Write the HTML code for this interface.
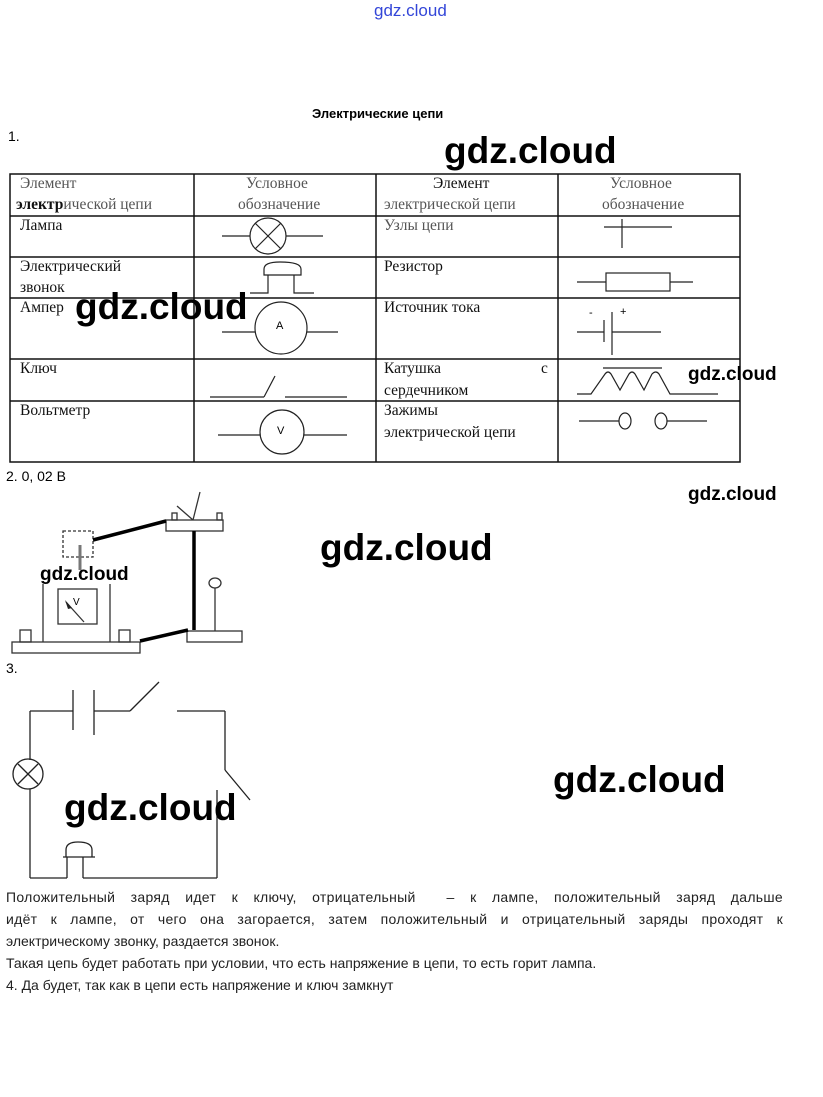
<!DOCTYPE html>
<html><head><meta charset="utf-8"><style>
body{margin:0;width:823px;height:1097px;background:#fff;position:relative;overflow:hidden;font-family:"Liberation Sans","Noto Sans CJK SC",sans-serif;color:#000}
.a{position:absolute;white-space:nowrap}
.wm{position:absolute;white-space:nowrap;font-family:"Liberation Sans",sans-serif;font-weight:bold;color:#000;line-height:1}
.s{font-family:"Liberation Serif",serif;font-size:15.5px;position:absolute;white-space:nowrap;color:#111}
.h{color:#555}
.t{position:absolute;left:6px;font-size:14px;white-space:nowrap;color:#222}
.j{white-space:normal;width:777px;text-align:justify;text-align-last:justify;letter-spacing:0.3px}
</style></head><body>
<div class="a" style="left:374px;top:1px;font-size:17px;color:#3346d8">gdz.cloud</div>
<div class="a" style="left:312px;top:106px;font-size:13px;font-weight:bold">Электрические цепи</div>
<div class="a" style="left:8px;top:128px;font-size:14px">1.</div>

<svg class="a" style="left:0;top:0" width="823" height="1097" viewBox="0 0 823 1097">
<g stroke="#111" stroke-width="1.5" fill="none">
<rect x="10" y="174" width="730" height="288"/>
<line x1="194" y1="174" x2="194" y2="462"/><line x1="376" y1="174" x2="376" y2="462"/><line x1="558" y1="174" x2="558" y2="462"/>
<line x1="10" y1="216" x2="740" y2="216"/><line x1="10" y1="257" x2="740" y2="257"/><line x1="10" y1="298" x2="740" y2="298"/><line x1="10" y1="359" x2="740" y2="359"/><line x1="10" y1="401" x2="740" y2="401"/>
</g>
<g stroke="#222" stroke-width="1.2" fill="none">
<line x1="222" y1="236" x2="250" y2="236"/><circle cx="268" cy="236" r="18"/><line x1="286" y1="236" x2="323" y2="236"/>
<line x1="255" y1="223" x2="281" y2="249"/><line x1="281" y1="223" x2="255" y2="249"/>
<path d="M264 275 V269 Q264 262 280 262 Q301 262 301 269 V275 Z"/>
<polyline points="250,293 268,293 268,275"/><polyline points="294,275 294,293 314,293"/>
<line x1="222" y1="332" x2="255" y2="332"/><circle cx="281" cy="328" r="26"/><line x1="307" y1="332" x2="338" y2="332"/>
<line x1="210" y1="397" x2="264" y2="397"/><line x1="264" y1="397" x2="275" y2="376"/><line x1="285" y1="397" x2="347" y2="397"/>
<line x1="218" y1="435" x2="260" y2="435"/><circle cx="282" cy="432" r="22"/><line x1="304" y1="435" x2="347" y2="435"/>
<line x1="604" y1="227" x2="672" y2="227"/><line x1="622" y1="219" x2="622" y2="248"/>
<line x1="577" y1="282" x2="606" y2="282"/><rect x="606" y="273" width="64" height="18"/><line x1="670" y1="282" x2="693" y2="282"/>
<line x1="577" y1="332" x2="604" y2="332"/><line x1="604" y1="320" x2="604" y2="342"/><line x1="612" y1="312" x2="612" y2="355"/><line x1="612" y1="332" x2="661" y2="332"/>
<line x1="603" y1="368" x2="662" y2="368"/>
<path d="M577 394 H591 L605 374 Q608 370 611 374 L620 390 L629 374 Q632 370 635 374 L644 390 L652 374 Q656 370 659 374 L670 394 H718"/>
<line x1="579" y1="421" x2="619" y2="421"/><ellipse cx="625" cy="421" rx="6" ry="8"/><ellipse cx="661" cy="421" rx="6" ry="8"/><line x1="667" y1="421" x2="707" y2="421"/>
</g>
<g stroke="#333" stroke-width="1.3" fill="none">
<rect x="12" y="642" width="128" height="11"/><rect x="20" y="630" width="11" height="12"/><rect x="119" y="630" width="11" height="12"/>
<rect x="166" y="520" width="57" height="11"/><rect x="172" y="513" width="5" height="7"/><rect x="217" y="513" width="5" height="7"/>
<rect x="187" y="631" width="55" height="11"/>
<line x1="43" y1="584" x2="43" y2="642"/><line x1="110" y1="584" x2="110" y2="642"/>
<rect x="58" y="589" width="39" height="35"/><line x1="66" y1="602" x2="84" y2="622"/>
<rect x="63" y="531" width="30" height="26" stroke-dasharray="3,2"/>
<line x1="177" y1="506" x2="193" y2="520"/><line x1="200" y1="492" x2="193" y2="520"/>
<ellipse cx="215" cy="583" rx="6" ry="5"/><line x1="215" y1="588" x2="215" y2="631"/>
</g>
<path d="M65 600 L72 608 L68 609 Z" fill="#222"/>
<line x1="80" y1="545" x2="80" y2="570" stroke="#777" stroke-width="3"/>
<g stroke="#000" stroke-width="3.5" fill="none">
<line x1="93" y1="540" x2="166" y2="521"/><line x1="194" y1="531" x2="194" y2="630"/><line x1="140" y1="641" x2="188" y2="630"/>
</g>
<g stroke="#222" stroke-width="1.3" fill="none">
<line x1="30" y1="711" x2="30" y2="760"/><line x1="30" y1="789" x2="30" y2="878"/>
<circle cx="28" cy="774" r="15"/><line x1="18" y1="764" x2="38" y2="784"/><line x1="38" y1="764" x2="18" y2="784"/>
<line x1="30" y1="711" x2="73" y2="711"/><line x1="73" y1="690" x2="73" y2="730"/><line x1="94" y1="690" x2="94" y2="735"/>
<line x1="94" y1="711" x2="130" y2="711"/><line x1="130" y1="711" x2="159" y2="682"/>
<line x1="177" y1="711" x2="225" y2="711"/><line x1="225" y1="711" x2="225" y2="770"/><line x1="225" y1="770" x2="250" y2="800"/>
<line x1="217" y1="790" x2="217" y2="878"/>
<line x1="30" y1="878" x2="67" y2="878"/><line x1="67" y1="878" x2="67" y2="857"/><line x1="83" y1="857" x2="83" y2="878"/><line x1="83" y1="878" x2="217" y2="878"/>
<path d="M63 857 H95 M66 857 V850 Q66 842 78 842 Q92 842 92 850 V857"/>
</g>
</svg>

<div class="s" style="left:20px;top:175px" ><span class="h">Элемент</span></div>
<div class="s" style="left:16px;top:196px"><b>электр</b><span class="h">ической цепи</span></div>
<div class="s h" style="left:246px;top:175px">Условное</div>
<div class="s h" style="left:238px;top:196px">обозначение</div>
<div class="s" style="left:433px;top:175px">Элемент</div>
<div class="s h" style="left:384px;top:196px">электрической цепи</div>
<div class="s h" style="left:610px;top:175px">Условное</div>
<div class="s h" style="left:602px;top:196px">обозначение</div>
<div class="s" style="left:20px;top:217px">Лампа</div>
<div class="s h" style="left:384px;top:217px">Узлы цепи</div>
<div class="s" style="left:20px;top:258px">Электрический</div>
<div class="s" style="left:20px;top:279px">звонок</div>
<div class="s" style="left:384px;top:258px">Резистор</div>
<div class="s" style="left:20px;top:299px">Ампер</div>
<div class="s" style="left:384px;top:299px">Источник тока</div>
<div class="s" style="left:20px;top:360px">Ключ</div>
<div class="s" style="left:384px;top:360px">Катушка</div>
<div class="s" style="left:541px;top:360px">с</div>
<div class="s" style="left:384px;top:382px">сердечником</div>
<div class="s" style="left:20px;top:402px">Вольтметр</div>
<div class="s" style="left:384px;top:402px">Зажимы</div>
<div class="s" style="left:384px;top:424px">электрической цепи</div>
<div class="a" style="left:276px;top:320px;font-size:11px">A</div>
<div class="a" style="left:277px;top:425px;font-size:11px">V</div>
<div class="a" style="left:589px;top:307px;font-size:11px">-</div>
<div class="a" style="left:620px;top:306px;font-size:11px">+</div>
<div class="a" style="left:73px;top:597px;font-size:10px">V</div>

<div class="a" style="left:6px;top:468px;font-size:14px">2. 0, 02 В</div>
<div class="a" style="left:6px;top:660px;font-size:14px">3.</div>

<div class="t j" style="top:889px">Положительный заряд идет к ключу, отрицательный &nbsp;– к лампе, положительный заряд дальше</div>
<div class="t j" style="top:911px">идёт к лампе, от чего она загорается, затем положительный и отрицательный заряды проходят к</div>
<div class="t" style="top:933px">электрическому звонку, раздается звонок.</div>
<div class="t" style="top:955px">Такая цепь будет работать при условии, что есть напряжение в цепи, то есть горит лампа.</div>
<div class="t" style="top:977px">4. Да будет, так как в цепи есть напряжение и ключ замкнут</div>

<div class="wm" style="left:444px;top:132px;font-size:37px">gdz.cloud</div>
<div class="wm" style="left:75px;top:288px;font-size:37px">gdz.cloud</div>
<div class="wm" style="left:320px;top:529px;font-size:37px">gdz.cloud</div>
<div class="wm" style="left:553px;top:761px;font-size:37px">gdz.cloud</div>
<div class="wm" style="left:64px;top:789px;font-size:37px">gdz.cloud</div>
<div class="wm" style="left:688px;top:365px;font-size:19px">gdz.cloud</div>
<div class="wm" style="left:688px;top:485px;font-size:19px">gdz.cloud</div>
<div class="wm" style="left:40px;top:565px;font-size:19px">gdz.cloud</div>
</body></html>
